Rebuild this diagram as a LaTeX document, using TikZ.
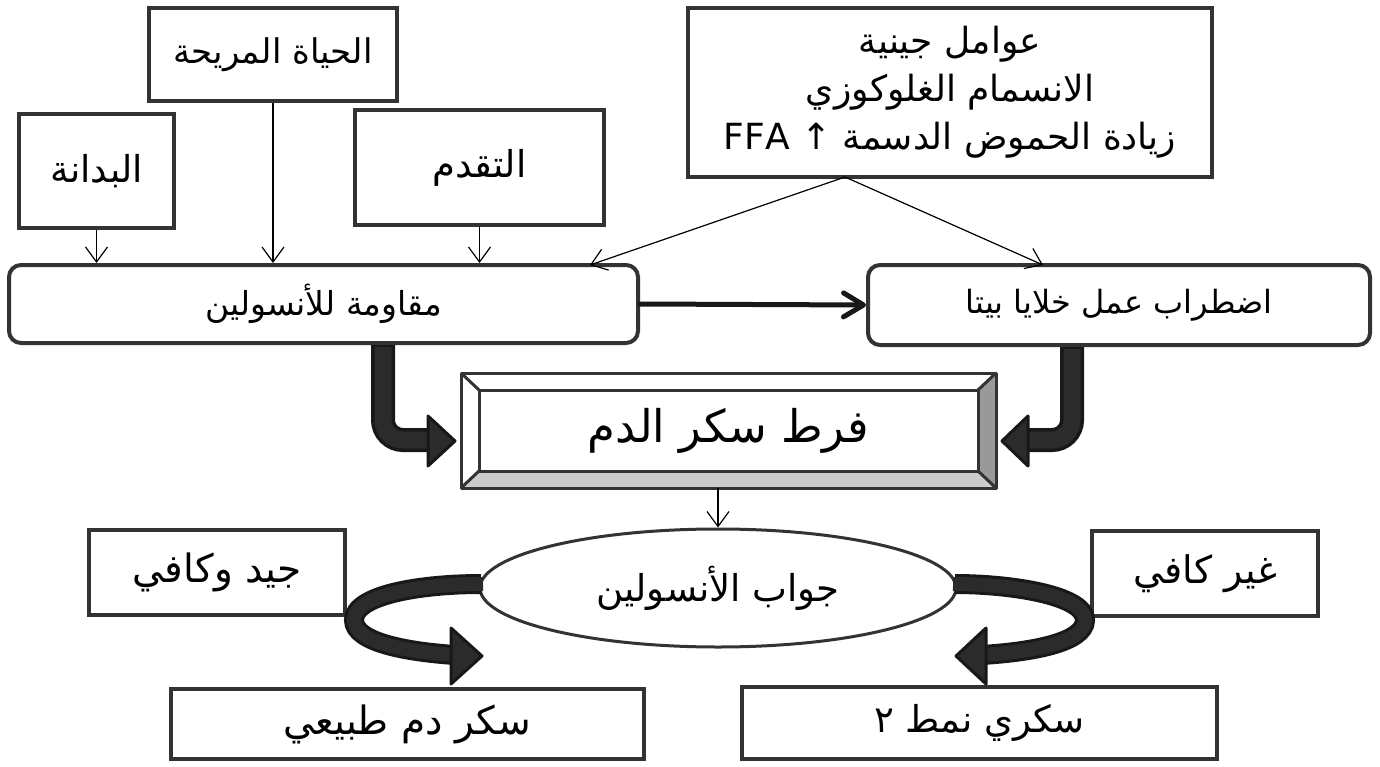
\documentclass[tikz,border=0pt]{standalone}
\usepackage{fontspec}
\setmainfont{DejaVu Sans}
\newfontfamily\arabicfont[Script=Arabic]{DejaVu Sans}
\TeXXeTstate=1
\usetikzlibrary{arrows.meta,shapes.geometric,calc}
\newcommand{\artxt}[1]{{\arabicfont\beginR #1\endR}}
\definecolor{boxc}{HTML}{333333}
\definecolor{blkfill}{HTML}{2B2B2B}
\definecolor{blkedge}{HTML}{181818}
\definecolor{bevright}{HTML}{999999}
\definecolor{bevbottom}{HTML}{CCCCCC}
\tikzset{
  sqbox/.style={draw=boxc, line width=4pt, fill=white, inner sep=0pt, align=center},
  rndbox/.style={sqbox, rounded corners=12pt},
  fz/.style={font=\fontsize{#1}{#1}\selectfont},
  thinarr/.style={black, line width=1.2pt, -{Straight Barb[length=15pt,width=22pt]}},
  thickarr/.style={blkedge, line width=5pt, line cap=round, -{Straight Barb[length=20pt,width=24pt,line cap=round, round]}},
  bandout/.style={blkedge, line width=24pt},
  bandin/.style={blkfill, line width=17pt},
  headtri/.style={fill=blkfill, draw=blkedge, line width=3pt, line join=round},
}
\begin{document}
\begin{tikzpicture}[x=1pt,y=-1pt]
\useasboundingbox (0,0) rectangle (1380,767);

% top nodes
\node[sqbox, fz=37, minimum width=155pt, minimum height=114pt] (obes) at (96.5,171) {\artxt{البدانة}};
\node[sqbox, fz=34, minimum width=248pt, minimum height=93pt] (comfy) at (273,54.5) {\artxt{الحياة المريحة}};
\node[sqbox, fz=37, minimum width=249pt, minimum height=115pt] (age) at (479.5,167.5) {\artxt{التقدم}};
\node[sqbox, font=\fontsize{36}{48}\selectfont, minimum width=524pt, minimum height=169pt] (genes) at (950,92.5)
  {\artxt{عوامل جينية}\\ \artxt{الانسمام الغلوكوزي}\\ {\arabicfont\beginR زيادة الحموض الدسمة ↑ \beginL FFA\endL\endR}};

% middle
\node[rndbox, fz=33, minimum width=629pt, minimum height=78pt] (resist) at (323.5,304) {\artxt{مقاومة للأنسولين}};
\node[rndbox, fz=32, minimum width=502pt, minimum height=80pt] (beta) at (1119,305) {\artxt{اضطراب عمل خلايا بيتا}};

% bevel box
\fill[white] (461,373) -- (996,373) -- (978,390) -- (479,390) -- cycle;
\fill[white] (461,373) -- (479,390) -- (479,471) -- (461,488) -- cycle;
\fill[bevright] (996,373) -- (996,488) -- (978,471) -- (978,390) -- cycle;
\fill[bevbottom] (461,488) -- (996,488) -- (978,471) -- (479,471) -- cycle;
\begin{scope}[draw=boxc, line width=3pt, line join=round]
\draw (461,373) rectangle (996,488);
\draw (479,390) rectangle (978,471);
\draw (461,373) -- (479,390);
\draw (996,373) -- (978,390);
\draw (461,488) -- (479,471);
\draw (996,488) -- (978,471);
\end{scope}
\node[inner sep=0pt, fz=45, minimum width=535pt, minimum height=115pt] (hyper) at (728.5,430.5) {\artxt{فرط سكر الدم}};

% bottom
\node[ellipse, draw=boxc, line width=3pt, fill=white, fz=37, minimum width=476pt, minimum height=118pt, inner sep=0pt] (resp) at (718,588) {\artxt{جواب الأنسولين}};
\node[sqbox, fz=39, minimum width=256pt, minimum height=85pt] (good) at (217,572) {\artxt{جيد وكافي}};
\node[sqbox, fz=38, minimum width=226pt, minimum height=85pt] (notenough) at (1205,573.5) {\artxt{غير كافي}};
\node[sqbox, fz=39, minimum width=473pt, minimum height=70pt] (normal) at (407,724) {\artxt{سكر دم طبيعي}};
\node[sqbox, fz=37, minimum width=475pt, minimum height=72pt] (type2) at (979.5,723) {\artxt{سكري نمط ٢}};

% thin arrows
\draw[thinarr] (obes.south) -- (obes.south |- resist.north);
\draw[thinarr] (comfy.south) -- (comfy.south |- resist.north);
\draw[thinarr] (age.south) -- (age.south |- resist.north);
\coordinate (gapex) at (845,177);
\coordinate (tipL) at (590,265);
\coordinate (tipR) at (1043,265);
\draw[thinarr] (gapex) -- (tipL);
\draw[thinarr] (gapex) -- (tipR);
\draw[thinarr] (resp.north |- hyper.south) -- (resp.north);

% thick straight arrow
\draw[thickarr] (resist.east) -- (beta.west);

% L block arrows
\draw[bandout, rounded corners=20pt] (383,345) -- (383,440) -- (432,440);
\draw[bandin, rounded corners=20pt] (383,347) -- (383,440) -- (432,440);
\draw[headtri] (428,416) -- (455,441) -- (428,466) -- cycle;
\draw[bandout, rounded corners=20pt] (1072,347) -- (1072,440) -- (1024,440);
\draw[bandin, rounded corners=20pt] (1072,349) -- (1072,440) -- (1024,440);
\draw[headtri] (1028,416) -- (1002,441) -- (1028,466) -- cycle;

% curved arrows
\draw[blkedge, line width=20pt] (481,584) .. controls (420,584) and (354,595) .. (354,620) .. controls (354,643) and (410,652) .. (455,655);
\draw[blkfill, line width=14pt] (483,584) .. controls (420,584) and (354,595) .. (354,620) .. controls (354,643) and (410,652) .. (455,655);
\draw[headtri] (451,628) -- (482,656) -- (451,684) -- cycle;
\draw[blkedge, line width=20pt] (955,584) .. controls (1010,584) and (1085,595) .. (1085,620) .. controls (1085,643) and (1030,652) .. (982,655);
\draw[blkfill, line width=14pt] (953,584) .. controls (1010,584) and (1085,595) .. (1085,620) .. controls (1085,643) and (1030,652) .. (982,655);
\draw[headtri] (986,628) -- (956,656) -- (986,684) -- cycle;
\end{tikzpicture}
\end{document}
